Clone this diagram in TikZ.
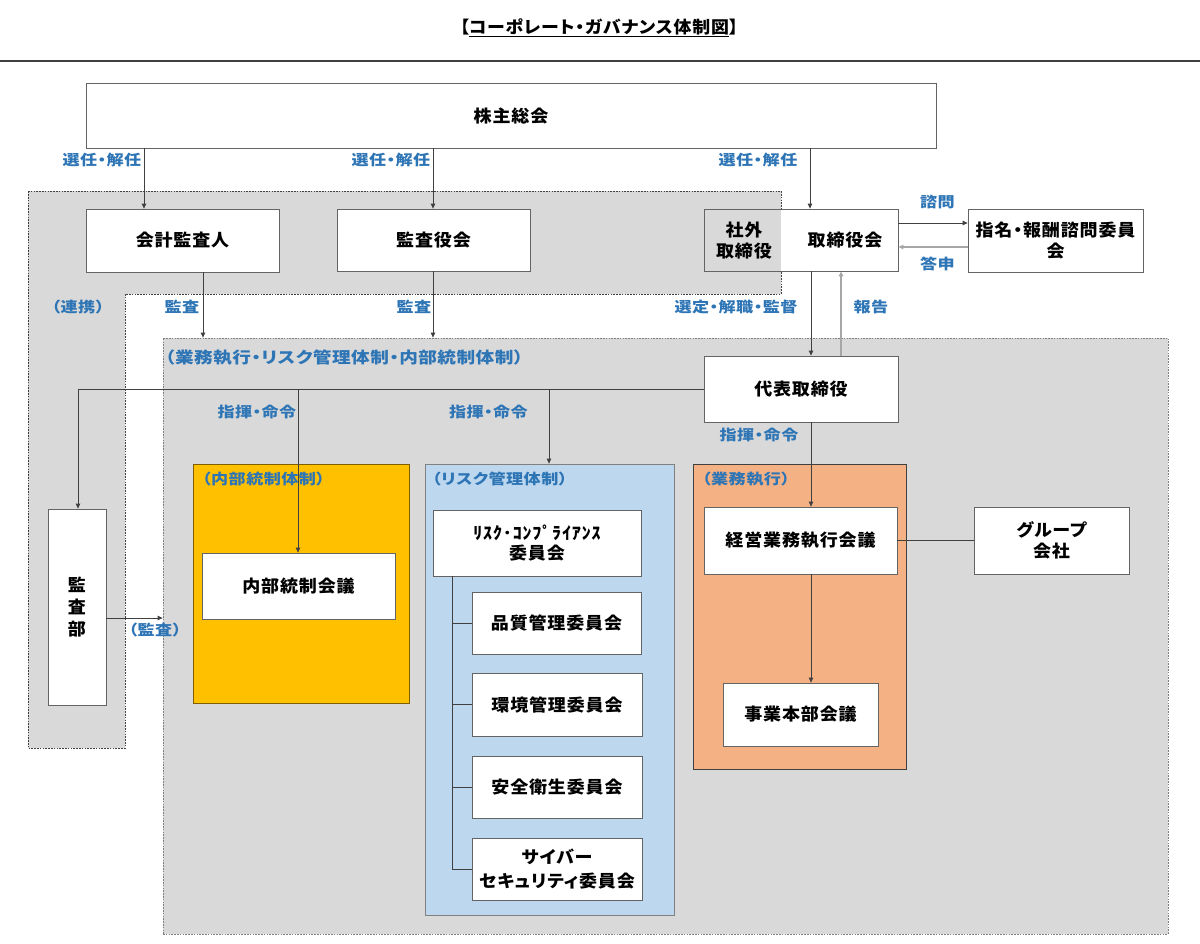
\documentclass[tikz,border=0pt]{standalone}
\usepackage{fontspec}
\usetikzlibrary{arrows.meta}
\setmainfont[RawFeature=+palt]{Noto Sans CJK JP}
\newfontfamily\nodefont[FakeStretch=1.06,LetterSpace=5,RawFeature=+palt]{Noto Sans CJK JP}
\newfontfamily\lblfont[FakeStretch=1.18,LetterSpace=3,RawFeature=+palt]{Noto Sans CJK JP}
\definecolor{lblblue}{RGB}{46,117,182}
\definecolor{reggray}{RGB}{217,217,217}
\definecolor{yel}{RGB}{255,192,0}
\definecolor{lblue}{RGB}{189,215,238}
\definecolor{orng}{RGB}{244,177,131}
\definecolor{lncol}{RGB}{64,64,64}
\definecolor{bdcol}{RGB}{100,100,100}
\definecolor{lgray}{RGB}{166,166,166}
\tikzset{
  box/.style={draw=bdcol, line width=0.8pt, fill=white, inner sep=0pt, align=center,
    font=\nodefont\bfseries\fontsize{17}{21}\selectfont, text=black},
  txt/.style={inner sep=0pt, align=center, font=\nodefont\bfseries\fontsize{17}{21}\selectfont, text=black},
  lbl/.style={text=lblblue, inner sep=0pt, font=\lblfont\bfseries\fontsize{14.5}{17}\selectfont},
  arr/.style={draw=lncol, line width=0.8pt, -{Triangle[length=5pt,width=4.5pt]}},
  arrg/.style={draw=lgray, line width=1.3pt, -{Triangle[length=5pt,width=4.5pt]}},
  conn/.style={draw=lncol, line width=0.8pt},
  frm/.style={line width=0.8pt, inner sep=0pt},
  dotb/.style={dash pattern=on 1.6pt off 1.2pt, line width=0.8pt}
}
\begin{document}
\begin{tikzpicture}[x=1pt,y=-1pt]
\useasboundingbox (0,0) rectangle (1200,943);
\fill[white] (0,0) rectangle (1200,943);

% title
\node[txt, font=\nodefont\bfseries\fontsize{16.9}{19}\selectfont] (title) at (599,28) {【\underline{コーポレート・ガバナンス体制図}】};
\draw[draw=lncol, line width=1.2pt] (0,61) -- (1200,61);

% regions
\draw[fill=reggray, draw=lncol, dotb] (28,191) -- (781,191) -- (781,294) -- (125,294) -- (125,748) -- (28,748) -- cycle;
\node[frm, fill=reggray, draw=gray, dotb, minimum width=1005pt, minimum height=596pt] (exec) at (665.5,636) {};

% frames
\node[frm, fill=yel, draw={rgb,255:red,127;green,96;blue,0}, minimum width=216pt, minimum height=239pt] (naibuF) at (301,583.5) {};
\node[frm, fill=lblue, draw=gray, minimum width=249pt, minimum height=451pt] (riskF) at (549.5,689.5) {};
\node[frm, fill=orng, draw=lncol, minimum width=213pt, minimum height=305pt] (gyomuF) at (799.5,616.5) {};

% boxes
\node[box, minimum width=850pt, minimum height=65pt] (kabu) at (511,115.5) {株主総会};
\node[box, minimum width=193pt, minimum height=63pt] (kaikei) at (182.5,240.5) {会計監査人};
\node[box, minimum width=193pt, minimum height=62pt] (kansayaku) at (433.5,240) {監査役会};
\fill[white] (781,209) rectangle (898,271);
\node[box, fill=none, minimum width=194pt, minimum height=62pt] (tori) at (801,240) {};
\node[txt] (shagai) at (744,241) {社外\\取締役};
\node[txt] (torikai) at (845,240) {取締役会};
\node[box, minimum width=175pt, minimum height=63pt] (shimei) at (1055.5,240.5) {指名・報酬諮問委員\\会};
\node[box, minimum width=194pt, minimum height=66pt] (daihyo) at (801,389) {代表取締役};
\node[box, minimum width=58pt, minimum height=196pt, font=\nodefont\bfseries\fontsize{17}{22}\selectfont] (kansabu) at (77,607) {監\\査\\部};
\node[box, minimum width=193pt, minimum height=66pt] (naibuK) at (298.5,586) {内部統制会議};
\node[box, minimum width=208pt, minimum height=66pt, font=\nodefont\bfseries\fontsize{17}{20}\selectfont] (riskC) at (537,543) {ﾘｽｸ･ｺﾝﾌﾟﾗｲｱﾝｽ\\委員会};
\node[box, minimum width=169pt, minimum height=62pt] (hin) at (556.5,623) {品質管理委員会};
\node[box, minimum width=170pt, minimum height=63pt] (kan) at (557,704.5) {環境管理委員会};
\node[box, minimum width=170pt, minimum height=62pt] (anz) at (557,787) {安全衛生委員会};
\node[box, minimum width=170pt, minimum height=62pt, font=\nodefont\bfseries\fontsize{17}{24}\selectfont] (cyb) at (557,869) {サイバー\\セキュリティ委員会};
\node[box, minimum width=193pt, minimum height=67pt] (keiei) at (800.5,540.5) {経営業務執行会議};
\node[box, minimum width=155pt, minimum height=63pt] (jigyo) at (800.5,714.5) {事業本部会議};
\node[box, minimum width=155pt, minimum height=67pt] (group) at (1051.5,540.5) {グループ\\会社};

% helper coordinates
\coordinate (xA) at (144,0);
\coordinate (xB) at (433,0);
\coordinate (xC) at (810,0);
\coordinate (xD) at (203,0);
\coordinate (xE) at (811,0);
\coordinate (xF) at (841,0);
\coordinate (xG) at (78,0);
\coordinate (xH) at (298,0);
\coordinate (xI) at (549,0);
\coordinate (xT) at (452,0);
\coordinate (yS) at (0,223);
\coordinate (yT) at (0,247);
\coordinate (yK) at (0,618);

% connectors
\draw[arr] (kabu.south -| xA) -- (kaikei.north -| xA);
\draw[arr] (kabu.south -| xB) -- (kansayaku.north -| xB);
\draw[arr] (kabu.south -| xC) -- (tori.north -| xC);
\draw[arr] (tori.east |- yS) -- (shimei.west |- yS);
\draw[arrg] (shimei.west |- yT) -- (tori.east |- yT);
\draw[arr] (tori.south -| xE) -- (daihyo.north -| xE);
\draw[arrg] (daihyo.north -| xF) -- (tori.south -| xF);
\draw[arr] (kaikei.south -| xD) -- (exec.north -| xD);
\draw[arr] (kansayaku.south -| xB) -- (exec.north -| xB);
\draw[conn] (daihyo.west) -- (daihyo.west -| xG);
\draw[arr] (daihyo.west -| xG) -- (kansabu.north -| xG);
\draw[arr] (daihyo.west -| xH) -- (naibuK.north -| xH);
\draw[arr] (daihyo.west -| xI) -- (riskF.north -| xI);
\draw[arr] (daihyo.south -| xE) -- (keiei.north -| xE);
\draw[arr] (keiei.south -| xE) -- (jigyo.north -| xE);
\draw[conn] (keiei.east) -- (group.west);
\draw[arr] (kansabu.east |- yK) -- (exec.west |- yK);
% risk tree
\draw[conn] (riskC.south -| xT) -- (cyb.west -| xT) -- (cyb.west);
\draw[conn] (hin.west -| xT) -- (hin.west);
\draw[conn] (kan.west -| xT) -- (kan.west);
\draw[conn] (anz.west -| xT) -- (anz.west);

% labels
\node[lbl] (l1) at (102,160) {選任・解任};
\node[lbl] (l2) at (391,160) {選任・解任};
\node[lbl] (l3) at (758,160) {選任・解任};
\node[lbl] (l4) at (937.5,202) {諮問};
\node[lbl] (l5) at (937.5,264) {答申};
\node[lbl] (l6) at (78,307) {（連携）};
\node[lbl] (l7) at (182,307) {監査};
\node[lbl] (l8) at (414,307) {監査};
\node[lbl] (l9) at (736,307) {選定・解職・監督};
\node[lbl] (l10) at (871,307) {報告};
\node[lbl, anchor=west, font=\lblfont\bfseries\fontsize{15.8}{18}\selectfont] (l11) at (165,358) {（業務執行・リスク管理体制・内部統制体制）};
\node[lbl] (l12) at (257,412) {指揮・命令};
\node[lbl] (l13) at (488.5,412) {指揮・命令};
\node[lbl] (l14) at (759,435) {指揮・命令};
\node[lbl] (l15) at (155,630) {（監査）};
\node[lbl, anchor=west] (l16) at (202,479) {（内部統制体制）};
\node[lbl, anchor=west] (l17) at (432,479) {（リスク管理体制）};
\node[lbl, anchor=west] (l18) at (702,479) {（業務執行）};
\end{tikzpicture}
\end{document}
